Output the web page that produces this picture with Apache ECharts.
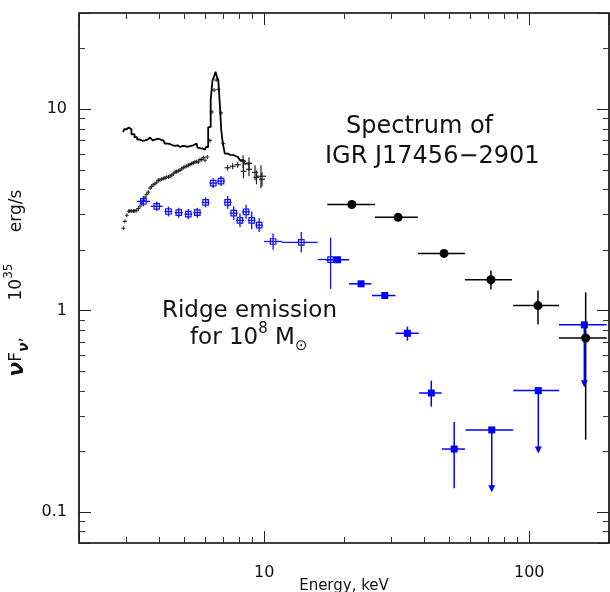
<!DOCTYPE html>
<html><head><meta charset="utf-8">
<script src="https://cdn.jsdelivr.net/npm/echarts@6/dist/echarts.min.js"></script>
<style>html,body{margin:0;padding:0;background:#fff}#c{width:610px;height:592px}</style>
</head><body><div id="c"></div>
<script>
// ---------- data (energy keV, nuFnu in 1e35 erg/s) ----------
// upper black spectrum (step histogram)
const specE = [2.93,3.00,3.05,3.11,3.20,3.28,3.35,3.43,3.50,3.60,3.66,3.71,3.77,3.81,3.90,3.98,4.08,4.16,4.28,4.37,4.48,4.57,4.67,4.75,4.81,4.92,5.02,5.13,5.25,5.40,5.56,5.64,5.72,5.81,5.90,5.98,6.07,6.22,6.34,6.42,6.51,6.59,6.67,6.75,6.84,6.93,7.03,7.17,7.43,7.69,7.96,8.24,8.54,8.84];
const specF = [7.68,7.94,8.10,7.94,7.50,7.25,7.06,6.96,7.00,7.06,6.92,7.22,7.16,7.00,7.08,7.14,7.04,7.00,6.74,6.69,6.61,6.57,6.61,6.50,6.48,6.57,6.54,6.50,6.54,6.61,6.74,6.44,6.39,6.37,6.50,6.29,6.48,8.13,11.07,13.93,14.46,15.31,14.46,13.93,10.70,7.85,6.74,6.01,5.93,5.90,5.78,5.57,5.36,5.36];
// upper black spectrum, last bins with error bars
const upXE   = [8.32,8.76,9.23,9.72];
const upXElo = [8.11,8.54,8.99,9.31];
const upXEhi = [8.54,8.99,9.47,10.16];
const upXF   = [5.51,5.38,4.85,4.64];
const upXFlo = [5.08,4.97,4.43,4.04];
const upXFhi = [5.90,5.76,5.26,5.26];
// lower black spectrum (small crosses)
const lowE = [2.94,2.98,3.03,3.08,3.11,3.16,3.21,3.25,3.30,3.35,3.40,3.45,3.50,3.55,3.60,3.65,3.71,3.76,3.81,3.87,3.93,3.98,4.04,4.10,4.16,4.22,4.28,4.35,4.41,4.48,4.54,4.61,4.67,4.74,4.81,4.88,4.95,5.02,5.10,5.17,5.25,5.33,5.40,5.48,5.56,5.64,5.72,5.81,5.89,5.98,6.10,6.24,6.34,6.47,6.59,6.71,6.87,7.01];
const lowF = [2.56,2.77,2.97,3.11,3.12,3.12,3.12,3.12,3.14,3.21,3.29,3.40,3.52,3.65,3.77,3.87,4.05,4.13,4.21,4.26,4.33,4.43,4.45,4.48,4.52,4.55,4.58,4.60,4.65,4.69,4.77,4.87,4.88,4.94,4.97,5.05,5.12,5.17,5.20,5.26,5.31,5.36,5.41,5.46,5.47,5.46,5.61,5.61,5.74,5.57,5.78,6.99,9.68,12.42,13.93,12.52,9.57,6.74];
const lowXE   = [7.27,7.60,7.94,8.35,8.76,9.35,9.81];
const lowXElo = [7.08,7.41,7.74,8.14,8.54,9.11,9.56];
const lowXEhi = [7.46,7.80,8.15,8.57,8.99,9.59,10.06];
const lowXF   = [5.11,5.20,5.29,4.91,5.02,4.58,4.48];
const lowXFlo = [4.94,5.02,5.11,4.53,4.64,4.23,4.14];
const lowXFhi = [5.29,5.38,5.48,5.32,5.44,4.96,4.85];
// blue open squares: ridge emission
const ridgeE   = [3.50,3.93,4.35,4.76,5.17,5.59,6.01,6.42,6.87,7.28,7.67,8.10,8.54,8.97,9.57,10.8,13.8,17.8];
const ridgeElo = [3.31,3.73,4.20,4.60,5.00,5.40,5.81,6.21,6.64,7.04,7.41,7.83,8.25,8.67,9.25,9.98,11.64,15.9];
const ridgeEhi = [3.71,4.14,4.50,4.93,5.35,5.79,6.22,6.65,7.11,7.53,7.94,8.38,8.84,9.28,9.90,11.67,15.92,19.3];
const ridgeF   = [3.48,3.29,3.10,3.06,3.01,3.06,3.44,4.29,4.39,3.44,3.04,2.80,3.09,2.80,2.65,2.20,2.18,1.79];
const ridgeFlo = [3.29,3.11,2.93,2.89,2.84,2.89,3.25,4.05,4.15,3.20,2.81,2.59,2.85,2.53,2.45,2.00,1.94,1.28];
const ridgeFhi = [3.69,3.48,3.28,3.24,3.19,3.24,3.64,4.54,4.65,3.70,3.29,3.03,3.35,3.10,2.87,2.41,2.45,2.30];
// blue filled squares: hard ridge emission (UL = upper limit)
const hardE   = [18.9,23.2,28.5,34.7,42.7,52.1,72.2,108.2,161.4];
const hardElo = [17.1,20.9,25.5,31.3,38.4,46.8,57.5,87.0,129.5];
const hardEhi = [20.9,25.4,31.3,38.3,46.7,57.2,87.0,129.5,196];
const hardF   = [1.785,1.356,1.186,0.770,0.389,0.205,0.255,0.400,0.848];
const hardFlo = [1.74,1.32,1.15,0.708,0.333,0.131,0.125,0.195,0.415];
const hardFhi = [1.83,1.39,1.22,0.832,0.448,0.279,0.255,0.400,0.848];
const hardUL  = [0,0,0,0,0,0,1,1,1];
// black filled circles: IGR J17456-2901
const ibisE   = [21.4,32.0,47.7,71.7,107.9,163.3];
const ibisElo = [17.3,26.2,38.0,57.2,86.9,129.5];
const ibisEhi = [26.2,38.0,57.2,86.1,129.5,196];
const ibisF   = [3.36,2.90,1.92,1.42,1.057,0.730];
const ibisFlo = [3.36,2.90,1.92,1.27,0.851,0.228];
const ibisFhi = [3.36,2.90,1.92,1.58,1.256,1.23];
// axes
const xRange = [2, 200];
const yRange = [0.07, 30];
const xTickLabels = [10, 100];
const yTickLabels = [0.1, 1, 10];

// ---------- chart ----------
const FONT = 'DejaVu Sans';
const W = 'normal';
const INK = '#111';
const chart = echarts.init(document.getElementById('c'), null, {renderer: 'canvas'});

function minorTicks(lo, hi) {
  const out = [];
  for (let d = -3; d <= 3; d++) {
    for (let k = 2; k <= 9; k++) {
      const v = k * Math.pow(10, d);
      if (v > lo * 1.0001 && v < hi * 0.9999) out.push(v);
    }
  }
  return out;
}

function errItems(E, Elo, Ehi, F, Flo, Fhi, UL) {
  return E.map((e, i) => [e, F[i], Elo[i], Ehi[i], Flo[i], Fhi[i], UL ? UL[i] : 0]);
}

function errRender(o) {
  return function (params, api) {
    const x = api.value(0), y = api.value(1);
    const p = api.coord([x, y]);
    const pl = api.coord([api.value(2), y]);
    const pr = api.coord([api.value(3), y]);
    const pb = api.coord([x, api.value(4)]);
    const pt = api.coord([x, api.value(5)]);
    const ul = api.value(6);
    const st = () => ({stroke: o.color, lineWidth: o.lw});
    const ch = [];
    if (o.marker === 'osquare') {
      const s = o.size;
      ch.push({type: 'rect', shape: {x: p[0] - s / 2, y: p[1] - s / 2, width: s, height: s}, style: {fill: 'none', stroke: o.color, lineWidth: 1.2}});
    }
    ch.push({type: 'line', shape: {x1: pl[0], y1: p[1], x2: pr[0], y2: p[1]}, style: st()});
    if (ul) {
      ch.push({type: 'line', shape: {x1: p[0], y1: p[1], x2: p[0], y2: pb[1] - 5}, style: st()});
      ch.push({type: 'polygon', shape: {points: [[p[0] - 3.5, pb[1] - 7], [p[0] + 3.5, pb[1] - 7], [p[0], pb[1]]]}, style: {fill: o.color}});
    } else if (Math.abs(pt[1] - pb[1]) > 0.5) {
      ch.push({type: 'line', shape: {x1: p[0], y1: pt[1], x2: p[0], y2: pb[1]}, style: st()});
    }
    if (o.marker === 'circle') {
      ch.push({type: 'circle', shape: {cx: p[0], cy: p[1], r: o.size / 2}, style: {fill: o.color}});
    } else if (o.marker === 'square') {
      const s = o.size;
      ch.push({type: 'rect', shape: {x: p[0] - s / 2, y: p[1] - s / 2, width: s, height: s}, style: {fill: o.color}});
    }
    return {type: 'group', children: ch};
  };
}

function isDecade(v) { const l = Math.log10(v); return Math.abs(l - Math.round(l)) < 1e-6; }
function fmt(v) { if (!isDecade(v)) return ''; return v >= 1 ? String(Math.round(v)) : String(Number(v.toPrecision(1))); }

function rotText(id, y, text, rich) {
  return {type: 'text', id: id, x: 17, y: y, rotation: Math.PI / 2,
          style: {text: text, rich: rich, align: 'center', verticalAlign: 'middle'}};
}
const titleRich = {
  nu: {fontSize: 22, fontStyle: 'italic', fontWeight: 'bold', fontFamily: FONT, lineHeight: 28, fill: INK},
  t: {fontSize: 17, fontFamily: FONT, fontWeight: W, lineHeight: 28, fill: INK},
  sub: {fontSize: 14, fontStyle: 'italic', fontWeight: 'bold', fontFamily: FONT, lineHeight: 14, verticalAlign: 'bottom', fill: INK},
  sup: {fontSize: 12, fontFamily: FONT, fontWeight: W, lineHeight: 12, verticalAlign: 'top', fill: INK}
};
const textGraphics = [
  rotText('t1', 357, '{nu|ν}{t|F}{sub|ν}{t|,}', titleRich),
  rotText('t2', 282, '{t|10}{sup|35}', titleRich),
  rotText('t3', 211, '{t|erg/s}', titleRich),
  {type: 'text', id: 'a1', x: 346, y: 127, style: {text: 'Spectrum of', font: '24px "DejaVu Sans"', fill: INK, align: 'left', verticalAlign: 'middle'}},
  {type: 'text', id: 'a2', x: 325, y: 157, style: {text: 'IGR J17456\u22122901', font: '24px "DejaVu Sans"', fill: INK, align: 'left', verticalAlign: 'middle'}},
  {type: 'text', id: 'a3', x: 162, y: 311, style: {text: 'Ridge emission', font: '23px "DejaVu Sans"', fill: INK, align: 'left', verticalAlign: 'middle'}},
  {type: 'text', id: 'a4', x: 190, y: 338,
   style: {text: '{t|for 10}{sup|8}{t| M}{sub|\u2299}', align: 'left', verticalAlign: 'middle',
     rich: {
       t: {fontSize: 23, fontFamily: FONT, fontWeight: W, lineHeight: 32, fill: INK},
       sup: {fontSize: 15, fontFamily: FONT, fontWeight: W, lineHeight: 15, verticalAlign: 'top', fill: INK},
       sub: {fontSize: 15, fontFamily: FONT, fontWeight: W, lineHeight: 15, verticalAlign: 'bottom', fill: INK}
     }}}
];

const majorTick = {show: true, inside: true, length: 12, lineStyle: {color: '#222', width: 1}};
const hiddenLabel = {show: false};
const baseOption = {
  animation: false,
  backgroundColor: '#fff',
  grid: {left: 79, right: 1, top: 13, bottom: 49, show: true, borderColor: '#000', borderWidth: 1.6,
         containLabel: false, outerBoundsMode: 'none'},
  xAxis: [{
    type: 'log', logBase: 10, min: xRange[0], max: xRange[1], position: 'bottom',
    axisLine: {show: false}, axisTick: majorTick, splitLine: {show: false}, minorTick: {show: false},
    axisLabel: {formatter: fmt, fontSize: 16, color: INK, fontFamily: FONT, fontWeight: W, margin: 22},
    name: 'Energy, keV', nameLocation: 'middle', nameGap: 36, nameMoveOverlap: false,
    nameTextStyle: {fontSize: 15, color: INK, fontFamily: FONT, fontWeight: W, verticalAlign: 'top'}
  }, {
    type: 'log', logBase: 10, min: xRange[0], max: xRange[1], position: 'top',
    axisLine: {show: false}, axisTick: majorTick, splitLine: {show: false}, axisLabel: hiddenLabel
  }],
  yAxis: [{
    type: 'log', logBase: 10, min: yRange[0], max: yRange[1], position: 'left',
    axisLine: {show: false}, axisTick: majorTick, splitLine: {show: false}, minorTick: {show: false},
    axisLabel: {formatter: fmt, fontSize: 16, color: INK, fontFamily: FONT, fontWeight: W, margin: 12}
  }, {
    type: 'log', logBase: 10, min: yRange[0], max: yRange[1], position: 'right',
    axisLine: {show: false}, axisTick: majorTick, splitLine: {show: false}, axisLabel: hiddenLabel
  }],
  series: [
    {type: 'line', step: 'middle', data: specE.map((e, i) => [e, specF[i]]), symbol: 'none',
     lineStyle: {color: '#000', width: 1.8}, z: 2},
    {type: 'scatter', data: lowE.map((e, i) => [e, lowF[i]]),
     symbol: 'path://M0,3.6H10V6.4H0ZM3.6,0H6.4V10H3.6Z', symbolSize: 4, itemStyle: {color: '#000'}, z: 2},
    {type: 'custom', renderItem: errRender({color: '#222', lw: 1.2, marker: 'none'}),
     data: errItems(upXE, upXElo, upXEhi, upXF, upXFlo, upXFhi), z: 3},
    {type: 'custom', renderItem: errRender({color: '#222', lw: 1.2, marker: 'none'}),
     data: errItems(lowXE, lowXElo, lowXEhi, lowXF, lowXFlo, lowXFhi), z: 3},
    {type: 'custom', renderItem: errRender({color: '#1010ff', lw: 1.3, marker: 'osquare', size: 5.5}),
     data: errItems(ridgeE, ridgeElo, ridgeEhi, ridgeF, ridgeFlo, ridgeFhi), z: 4},
    {type: 'custom', renderItem: errRender({color: '#0000ff', lw: 1.5, marker: 'square', size: 7}),
     data: errItems(hardE, hardElo, hardEhi, hardF, hardFlo, hardFhi, hardUL), z: 4},
    {type: 'custom', renderItem: errRender({color: '#000', lw: 1.5, marker: 'circle', size: 9}),
     data: errItems(ibisE, ibisElo, ibisEhi, ibisF, ibisFlo, ibisFhi), z: 5}
  ]
};

chart.setOption(baseOption);

// ---- minor (and major) tick marks on all four sides, placed through the axes' own scales ----
const tickRects = [];
try {
  const toPx = v => chart.convertToPixel({xAxisIndex: 0, yAxisIndex: 0}, v);
  const c0 = toPx([xRange[0], yRange[0]]);
  const c1 = toPx([xRange[1], yRange[1]]);
  const gL = c0[0], gB = c0[1], gR = c1[0], gT = c1[1];
  const addRect = (x, y, w, h) => tickRects.push({type: 'rect', shape: {x: x, y: y, width: w, height: h},
                                                   style: {fill: '#333'}});
  const xT = xTickLabels.map(v => [v, 12]).concat(minorTicks(xRange[0], xRange[1]).map(v => [v, 6]));
  const yT = yTickLabels.map(v => [v, 12]).concat(minorTicks(yRange[0], yRange[1]).map(v => [v, 6]));
  xT.forEach(t => {
    const xp = Math.round(toPx([t[0], 1])[0]);
    addRect(xp, gB - t[1], 1, t[1]); addRect(xp, gT, 1, t[1]);
  });
  yT.forEach(t => {
    const yp = Math.round(toPx([10, t[0]])[1]);
    addRect(gL, yp, t[1], 1); addRect(gR - t[1], yp, t[1], 1);
  });
} catch (e) { /* ticks are decorative */ }

chart.setOption({graphic: [{type: 'group', id: 'ticks', children: tickRects}].concat(textGraphics)});
</script>
</body></html>
